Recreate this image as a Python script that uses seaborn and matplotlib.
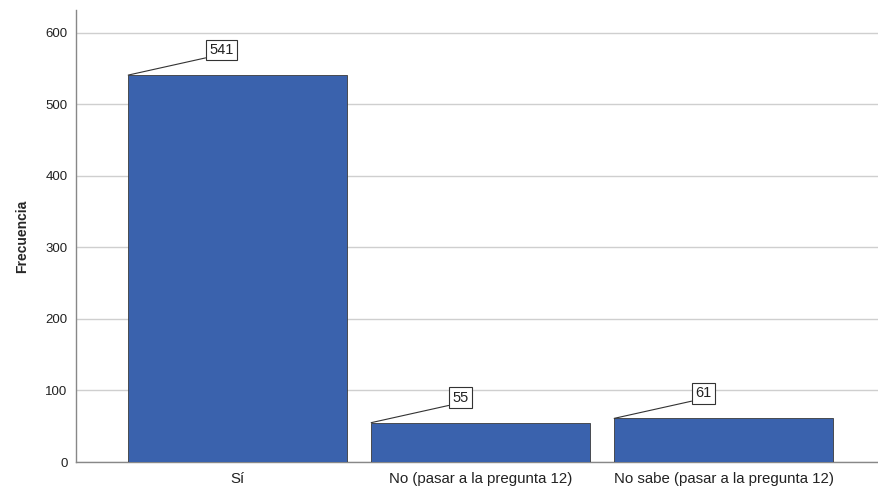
import matplotlib
matplotlib.use("Agg")
import matplotlib.pyplot as plt
import seaborn as sns
import pandas as pd

categories = ["Sí", "No (pasar a la pregunta 12)", "No sabe (pasar a la pregunta 12)"]
frecuencias = [541, 55, 61]

df = pd.DataFrame({"Respuesta": categories, "Frecuencia": frecuencias})

sns.set_style("white")
plt.rcParams["font.family"] = ["Liberation Sans", "DejaVu Sans"]

fig = plt.figure(figsize=(8.79, 4.86), dpi=100)
ax = fig.add_axes([76 / 879, (486 - 462) / 486, (879 - 76) / 879, (462 - 10) / 486])

sns.barplot(data=df, x="Respuesta", y="Frecuencia", color="#3A62AD", width=0.9,
            saturation=1, edgecolor="#3a3a3a", linewidth=0.6, ax=ax, zorder=3)

ax.set_xlim(-0.665, 2.64)
ax.set_ylim(0, 632)
ax.set_yticks(range(0, 601, 100))
ax.yaxis.grid(True, color="#cfcfcf", linewidth=1, zorder=0)
ax.set_axisbelow(True)
for s in ["top", "right"]:
    ax.spines[s].set_visible(False)
for s in ["left", "bottom"]:
    ax.spines[s].set_color("#888888")
    ax.spines[s].set_linewidth(1)
ax.tick_params(axis="y", length=0, labelsize=9.5, colors="#222222", pad=6)
ax.tick_params(axis="x", length=0, labelsize=10.8, colors="#222222", pad=7)
ax.set_xlabel("")
ax.set_ylabel("Frecuencia", fontsize=10, fontweight="bold", labelpad=12)

# etiquetas con linea desde la esquina de cada barra
for i, v in enumerate(frecuencias):
    ax.annotate(str(v), xy=(i - 0.45, v), xytext=(81, 18), textcoords="offset pixels",
                fontsize=10.5, color="#222222", va="bottom", ha="left",
                bbox=dict(boxstyle="square,pad=0.22", fc="white", ec="#333333", lw=0.8),
                arrowprops=dict(arrowstyle="-", color="#333333", lw=0.8,
                                shrinkA=0, shrinkB=0, relpos=(0, 0)),
                zorder=5)

fig.savefig("out.png", dpi=100)
